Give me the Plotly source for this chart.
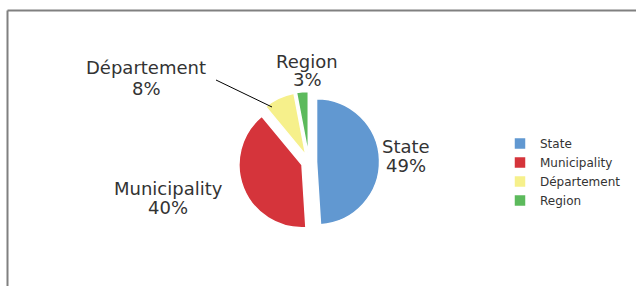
import plotly.graph_objects as go

# ---- data ----
categories = ["State", "Municipality", "Département", "Region"]
values = [49, 40, 8, 3]
colors = ["#6198D1", "#D5343B", "#F6F08B", "#5CBA5C"]

W, H = 636, 286
FONT = "DejaVu Sans"
TXT = "#333333"

def px(x):
    return x / W

def py(y):
    return 1 - y / H

half = 63 * 1.12
fig = go.Figure()
fig.add_trace(go.Pie(
    labels=categories,
    values=values,
    sort=False,
    direction="clockwise",
    rotation=0,
    pull=[0.12, 0.12, 0.12, 0.12],
    marker=dict(colors=colors, line=dict(color="white", width=1.5)),
    textinfo="none",
    hoverinfo="label+percent",
    domain=dict(x=[px(309 - half), px(309 + half)], y=[1 - (162 + half) / H, 1 - (162 - half) / H]),
))

# ---- data labels (name + percent), positioned by hand ----
total = sum(values)
label_pos = {  # centre x, baseline of line 1, baseline of line 2 (pixels)
    "State": (406, 153, 172),
    "Municipality": (168, 195, 214),
    "Département": (146, 74, 95),
    "Region": (307, 68, 86),
}
fs = 18
annotations = []
for cat, v in zip(categories, values):
    cx, b1, b2 = label_pos[cat]
    pct = f"{round(100 * v / total)}%"
    for txt, b in ((cat, b1), (pct, b2)):
        annotations.append(dict(
            x=px(cx), y=py(b - 0.35 * fs), xref="paper", yref="paper",
            text=txt, showarrow=False, xanchor="center", yanchor="middle",
            borderpad=0,
            font=dict(family=FONT, size=fs, color=TXT),
        ))

frame = dict(color="#808080", width=2)
shapes = [
    # chart frame (top and left edges; the rest runs off the picture)
    dict(type="line", xref="paper", yref="paper",
         x0=px(7.5), y0=py(10.5), x1=px(636), y1=py(10.5), line=frame, layer="below"),
    dict(type="line", xref="paper", yref="paper",
         x0=px(7.5), y0=py(10.5), x1=px(7.5), y1=py(286), line=frame, layer="below"),
    # leader line for Département
    dict(type="line", xref="paper", yref="paper",
         x0=px(216), y0=py(80), x1=px(272), y1=py(107),
         line=dict(color="#000000", width=1)),
]

fig.update_layout(
    width=W, height=H,
    margin=dict(l=0, r=0, t=0, b=0),
    paper_bgcolor="white",
    plot_bgcolor="white",
    font=dict(family=FONT, color=TXT),
    showlegend=True,
    legend=dict(
        x=px(500), y=py(129), xanchor="left", yanchor="top",
        font=dict(family=FONT, size=12, color=TXT),
        bgcolor="white", borderwidth=0, traceorder="normal",
    ),
    annotations=annotations,
    shapes=shapes,
)

fig.write_html(
    "out.html",
    config={"displayModeBar": False},
    post_script="document.body.style.margin='0';document.body.style.overflow='hidden';",
)
